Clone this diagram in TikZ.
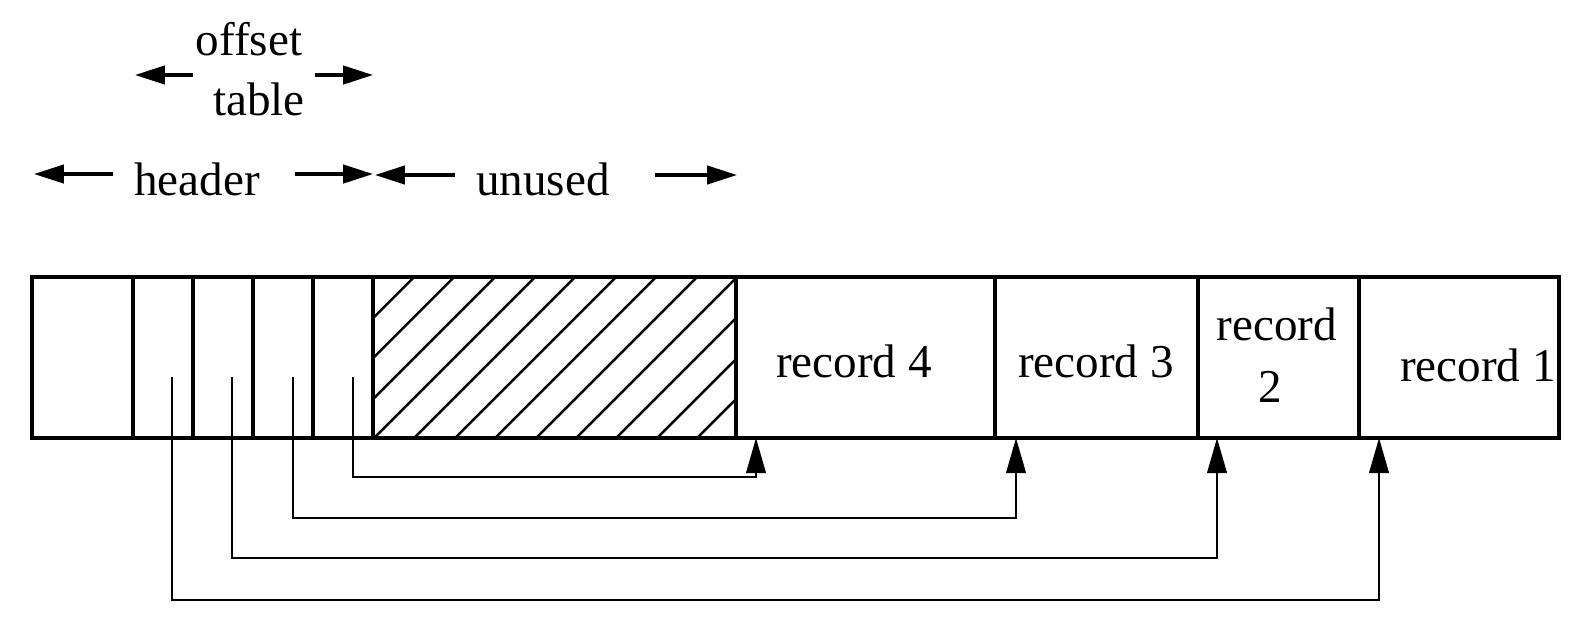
\documentclass[tikz,border=0pt]{standalone}
\usepackage{fontspec}
\setmainfont{Liberation Serif}
\usetikzlibrary{arrows.meta}
\tikzset{
	cell/.style={draw=black, line width=0.9pt},
	hatch/.style={line width=0.7pt},
	lbl/.style={anchor=base, inner sep=0pt, font=\fontsize{13.4}{16}\selectfont},
	ptr/.style={line width=0.6pt, -{Triangle[length=10pt, width=5.6pt]}},
	span/.style={line width=1pt, -{Triangle[length=8.5pt, width=5.2pt]}}
}

\begin{document}
\begin{tikzpicture}[x=0.01cm, y=-0.01cm]
			\useasboundingbox (0,0) rectangle (1586,626);

			% labels over the page
			\node[lbl] (offset) at (249,55) {offset};
			\node[lbl] (table) at (259,115) {table};
			\node[lbl] (header) at (197,195) {header};
			\node[lbl] (unused) at (543,195) {unused};

			\coordinate (otL) at (193,75);  \coordinate (otLtip) at (135,75);
			\coordinate (otR) at (315,75);  \coordinate (otRtip) at (373,75);
			\coordinate (hdL) at (113,174); \coordinate (hdLtip) at (34,174);
			\coordinate (hdR) at (295,174); \coordinate (hdRtip) at (373,174);
			\coordinate (unL) at (455,175); \coordinate (unLtip) at (375,175);
			\coordinate (unR) at (655,175); \coordinate (unRtip) at (737,175);
			\draw[span] (otL) -- (otLtip);
			\draw[span] (otR) -- (otRtip);
			\draw[span] (hdL) -- (hdLtip);
			\draw[span] (hdR) -- (hdRtip);
			\draw[span] (unL) -- (unLtip);
			\draw[span] (unR) -- (unRtip);

			% unused space
			\begin{scope}
				\clip (373,277) rectangle (736,438);
				\draw[hatch] (212,438) -- ++(161,-161);
				\draw[hatch] (253,438) -- ++(161,-161);
				\draw[hatch] (293,438) -- ++(161,-161);
				\draw[hatch] (334,438) -- ++(161,-161);
				\draw[hatch] (374,438) -- ++(161,-161);
				\draw[hatch] (414,438) -- ++(161,-161);
				\draw[hatch] (455,438) -- ++(161,-161);
				\draw[hatch] (495,438) -- ++(161,-161);
				\draw[hatch] (536,438) -- ++(161,-161);
				\draw[hatch] (576,438) -- ++(161,-161);
				\draw[hatch] (616,438) -- ++(161,-161);
				\draw[hatch] (657,438) -- ++(161,-161);
				\draw[hatch] (697,438) -- ++(161,-161);
			\end{scope}

			% the page
			\draw[cell] (32,277) rectangle (133,438);
			\draw[cell] (133,277) rectangle (193,438);
			\draw[cell] (193,277) rectangle (253,438);
			\draw[cell] (253,277) rectangle (313,438);
			\draw[cell] (313,277) rectangle (373,438);
			\draw[cell] (373,277) rectangle (736,438);
			\draw[cell] (736,277) rectangle (995,438);
			\draw[cell] (995,277) rectangle (1198,438);
			\draw[cell] (1198,277) rectangle (1359,438);
			\draw[cell] (1359,277) rectangle (1559,438);

			\node[lbl] (rec4) at (854,377) {record 4};
			\node[lbl] (rec3) at (1096,377) {record 3};
			\node[lbl] (rec2) at (1277,340) {record};
			\node[lbl] (rec2n) at (1270,402) {2};
			\node[lbl] (rec1) at (1478,381) {record 1};

			% offsets pointing at the records
			\coordinate (p1) at (172,377); \coordinate (k1) at (1379,600); \coordinate (a1) at (1379,438);
			\coordinate (p2) at (232,377); \coordinate (k2) at (1217,558); \coordinate (a2) at (1217,438);
			\coordinate (p3) at (293,377); \coordinate (k3) at (1016,518); \coordinate (a3) at (1016,438);
			\coordinate (p4) at (353,377); \coordinate (k4) at (756,477);  \coordinate (a4) at (756,438);
			\draw[ptr] (p1) |- (k1) -- (a1);
			\draw[ptr] (p2) |- (k2) -- (a2);
			\draw[ptr] (p3) |- (k3) -- (a3);
			\draw[ptr] (p4) |- (k4) -- (a4);
		\end{tikzpicture}
\end{document}
